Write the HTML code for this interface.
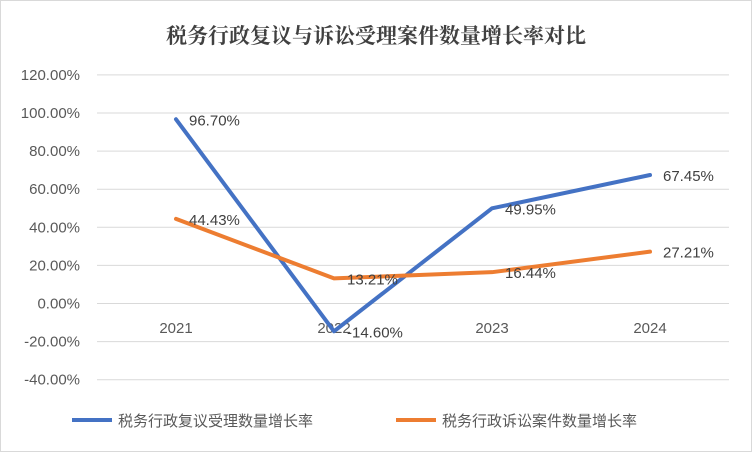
<!DOCTYPE html>
<html><head><meta charset="utf-8"><style>
body{margin:0;background:#fff}
svg{display:block;font-family:"Liberation Sans","Noto Sans CJK SC",sans-serif}
</style></head><body>
<svg width="752" height="452">
<rect x="0.5" y="0.5" width="751" height="451" fill="#fff" stroke="#d9d9d9"/>
<text x="376" y="43" text-anchor="middle" font-size="21" font-weight="bold" fill="#404040" font-family="'Noto Serif CJK SC','Noto Sans CJK SC',serif">税务行政复议与诉讼受理案件数量增长率对比</text>
<g id="grid"></g><g id="ylabels"></g><g id="xlabels"></g><g id="lines"></g><g id="vals"></g>
<g>
<line x1="72" y1="420" x2="112" y2="420" stroke="#4472c4" stroke-width="4"/>
<text x="118" y="426" font-size="15" fill="#595959">税务行政复议受理数量增长率</text>
<line x1="396" y1="420" x2="436" y2="420" stroke="#ed7d31" stroke-width="4"/>
<text x="442" y="426" font-size="15" fill="#595959">税务行政诉讼案件数量增长率</text>
</g>
</svg>
<script>
const categories=["2021","2022","2023","2024"];
const reviewValues=[96.70,-14.60,49.95,67.45];
const litigationValues=[44.43,13.21,16.44,27.21];
const yTicks=[120,100,80,60,40,20,0,-20,-40];
const NS="http://www.w3.org/2000/svg";
const y0=303.5, pxPer=38.1/20;
const yS=v=>y0-v*pxPer;
const xS=i=>176+i*158;
function mk(tag,attrs,parent,text){const e=document.createElementNS(NS,tag);for(const k in attrs)e.setAttribute(k,attrs[k]);if(text!==undefined)e.textContent=text;document.getElementById(parent).appendChild(e);return e;}
yTicks.forEach(t=>{
 const g=mk('line',{x1:97,x2:729,y1:yS(t),y2:yS(t),stroke:'#d9d9d9','stroke-width':1},'grid');
 
 
 const l=mk('text',{x:80,y:yS(t)+5,'text-anchor':'end','font-size':15,fill:'#595959'},'ylabels',t.toFixed(2)+'%');
 
 
});
categories.forEach((c,i)=>{
 const l=mk('text',{x:xS(i),y:333,'text-anchor':'middle','font-size':15,fill:'#595959'},'xlabels',c);
 
 
});
function series(vals,color,name){
 const p=mk('polyline',{points:vals.map((v,i)=>xS(i)+','+yS(v)).join(' '),fill:'none',stroke:color,'stroke-width':4,'stroke-linejoin':'round','stroke-linecap':'round'},'lines');
 
 
 vals.forEach((v,i)=>{
  const t=mk('text',{x:xS(i)+13,y:yS(v)+6,'font-size':15,fill:'#404040'},'vals',v.toFixed(2)+'%');
  
  
 });
}
series(reviewValues,'#4472c4','review-growth-line');
series(litigationValues,'#ed7d31','litigation-growth-line');
</script>
</body></html>
